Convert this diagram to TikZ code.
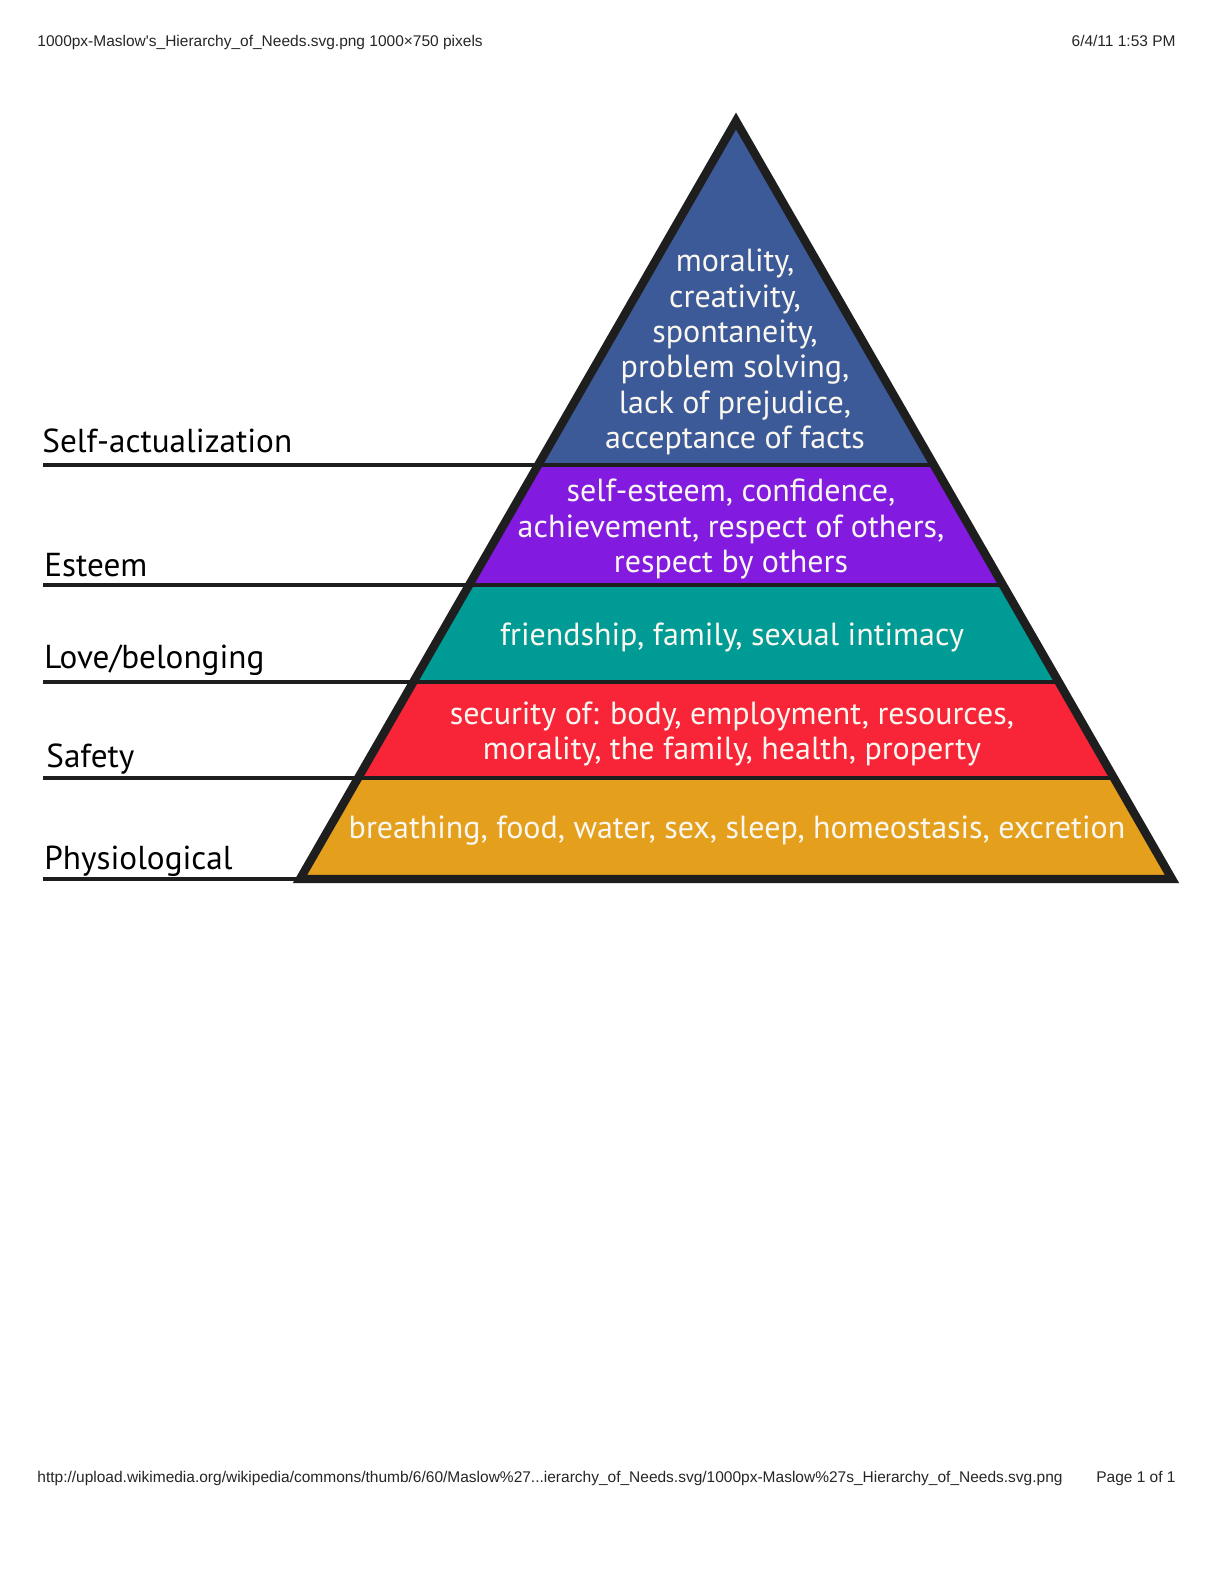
\documentclass[tikz,border=0pt]{standalone}
\usepackage{fontspec}
\setmainfont{PT Sans}
\newfontfamily\hdrfont{Liberation Sans}
\usetikzlibrary{calc}
\definecolor{cblue}{RGB}{61,90,152}
\definecolor{cpurple}{RGB}{131,26,224}
\definecolor{cteal}{RGB}{0,155,148}
\definecolor{cred}{RGB}{248,36,56}
\definecolor{corange}{RGB}{228,160,29}
\definecolor{ctext}{RGB}{250,247,240}
\definecolor{cline}{RGB}{30,30,30}
\tikzset{
  bandtext/.style={text=ctext, align=center, font=\fontsize{16}{17.7}\selectfont, inner sep=0pt},
  levellabel/.style={anchor=base west, text=black, font=\fontsize{16.6}{18}\selectfont, inner sep=0pt},
  levelline/.style={draw=cline, line width=1.8pt},
  divider/.style={draw=cline, line width=2.2pt},
  outline/.style={draw=cline, line width=4.2pt, line join=miter},
  pagetext/.style={font=\hdrfont\fontsize{7.75}{9}\selectfont, inner sep=0pt, text=black!85}
}
\begin{document}
\begin{tikzpicture}[x=0.5pt,y=-0.5pt]
\useasboundingbox (0,0) rectangle (1224,1584);
\fill[white] (0,0) rectangle (1224,1584);
% pyramid geometry
\coordinate (apex) at (736,121);
\coordinate (bl) at (300,879);
\coordinate (br) at (1172,879);
\coordinate (l1) at ($(apex)!0.4538!(bl)$);
\coordinate (r1) at ($(apex)!0.4538!(br)$);
\coordinate (l2) at ($(apex)!0.6121!(bl)$);
\coordinate (r2) at ($(apex)!0.6121!(br)$);
\coordinate (l3) at ($(apex)!0.7401!(bl)$);
\coordinate (r3) at ($(apex)!0.7401!(br)$);
\coordinate (l4) at ($(apex)!0.8668!(bl)$);
\coordinate (r4) at ($(apex)!0.8668!(br)$);
% bands
\fill[cblue] (apex) -- (r1) -- (l1) -- cycle;
\fill[cpurple] (l1) -- (r1) -- (r2) -- (l2) -- cycle;
\fill[cteal] (l2) -- (r2) -- (r3) -- (l3) -- cycle;
\fill[cred] (l3) -- (r3) -- (r4) -- (l4) -- cycle;
\fill[corange] (l4) -- (r4) -- (br) -- (bl) -- cycle;
% dividers
\draw[divider] (l1) -- (r1);
\draw[divider] (l2) -- (r2);
\draw[divider] (l3) -- (r3);
\draw[divider] (l4) -- (r4);
\draw[outline] (apex) -- (br) -- (bl) -- cycle;
% label lines
\coordinate (s1) at (43,0 |- l1);
\coordinate (s2) at (43,0 |- l2);
\coordinate (s3) at (43,0 |- l3);
\coordinate (s4) at (43,0 |- l4);
\coordinate (s5) at (43,0 |- bl);
\draw[levelline] (s1) -- (l1);
\draw[levelline] (s2) -- (l2);
\draw[levelline] (s3) -- (l3);
\draw[levelline] (s4) -- (l4);
\draw[levelline] (s5) -- (bl);
% labels
\node[levellabel] (lab1) at (42,452) {Self-actualization};
\node[levellabel] (lab2) at (44,576) {Esteem};
\node[levellabel] (lab3) at (44,668) {Love/belonging};
\node[levellabel] (lab4) at (46,767) {Safety};
\node[levellabel] (lab5) at (44,869) {Physiological};
% band texts
\node[bandtext] (t1) at (735,352) {morality,\\creativity,\\spontaneity,\\problem solving,\\lack of prejudice,\\acceptance of facts};
\node[bandtext] (t2) at (731,529) {self-esteem, confidence,\\achievement, respect of others,\\respect by others};
\node[bandtext] (t3) at (732,637) {friendship, family, sexual intimacy};
\node[bandtext] (t4) at (732,734) {security of: body, employment, resources,\\morality, the family, health, property};
\node[bandtext] (t5) at (737,831) {breathing, food, water, sex, sleep, homeostasis, excretion};
% page header and footer
\node[pagetext, anchor=base west] (h1) at (37,47) {1000px-Maslow's\_Hierarchy\_of\_Needs.svg.png 1000×750 pixels};
\node[pagetext, anchor=base east] (h2) at (1176,47) {6/4/11 1:53 PM};
\node[pagetext, anchor=base west] (f1) at (37,1482) {http://upload.wikimedia.org/wikipedia/commons/thumb/6/60/Maslow\%27...ierarchy\_of\_Needs.svg/1000px-Maslow\%27s\_Hierarchy\_of\_Needs.svg.png};
\node[pagetext, anchor=base east] (f2) at (1176,1482) {Page 1 of 1};
\end{tikzpicture}
\end{document}
